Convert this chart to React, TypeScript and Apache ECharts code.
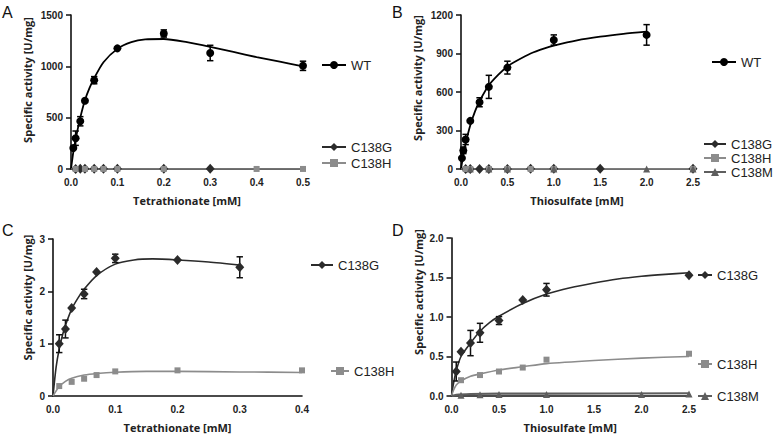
import React, { useEffect, useRef } from "react";
import * as echarts from "echarts";

// ---------- Panel A: Tetrathionate, WT + mutants ----------
const aWtX = [0.005, 0.01, 0.02, 0.03, 0.05, 0.1, 0.2, 0.3, 0.5];
const aWtY = [205, 300, 465, 665, 865, 1175, 1320, 1130, 1005];
const aWtErr = [0, 70, 45, 0, 35, 0, 35, 75, 45];
const aWtFitX = [0, 0.005, 0.01, 0.02, 0.03, 0.04, 0.05, 0.07, 0.1, 0.13, 0.16, 0.2, 0.25, 0.3, 0.35, 0.4, 0.45, 0.5];
const aWtFitY = [0, 165, 290, 500, 670, 790, 885, 1040, 1170, 1235, 1262, 1266, 1235, 1190, 1140, 1090, 1045, 1000];
const aGX = [0.01, 0.02, 0.03, 0.05, 0.07, 0.1, 0.2, 0.3];
const aGY = [1.0, 1.28, 1.68, 1.95, 2.37, 2.63, 2.6, 2.46];
const aHX = [0.01, 0.03, 0.05, 0.07, 0.1, 0.2, 0.4, 0.5];
const aHY = [0.19, 0.27, 0.33, 0.4, 0.47, 0.49, 0.49, 0.48];
const aMutFitX = [0, 0.5];
const aGFitY = [0, 2.5];
const aHFitY = [0, 0.45];

// ---------- Panel B: Thiosulfate, WT + mutants ----------
const bWtX = [0.01, 0.025, 0.05, 0.1, 0.2, 0.3, 0.5, 1.0, 2.0];
const bWtY = [85, 145, 230, 375, 520, 640, 790, 1005, 1045];
const bWtErr = [0, 25, 40, 0, 35, 90, 50, 40, 80];
const bWtFitX = [0, 0.01, 0.025, 0.05, 0.1, 0.15, 0.2, 0.3, 0.4, 0.5, 0.6, 0.75, 0.9, 1.0, 1.25, 1.5, 1.75, 2.0];
const bWtFitY = [0, 45, 108, 198, 340, 447, 528, 652, 733, 799, 843, 900, 940, 961, 1002, 1031, 1053, 1070];
const bGX = [0.05, 0.1, 0.2, 0.3, 0.5, 0.75, 1.0, 1.5, 2.5];
const bGY = [0.31, 0.56, 0.67, 0.8, 0.96, 1.22, 1.35, 1.45, 1.53];
const bHX = [0.05, 0.1, 0.3, 0.5, 0.75, 1.0, 2.5];
const bHY = [0.15, 0.2, 0.27, 0.31, 0.36, 0.46, 0.535];
const bMX = [0.1, 0.3, 0.5, 1.0, 2.0, 2.5];
const bMY = [0.01, 0.015, 0.02, 0.02, 0.02, 0.025];
const bMutFitX = [0, 2.5];
const bGFitY = [0, 1.56];
const bHFitY = [0, 0.5];
const bMFitY = [0, 0.035];

// ---------- Panel C: Tetrathionate, mutants ----------
const cGX = [0.01, 0.02, 0.03, 0.05, 0.07, 0.1, 0.2, 0.3];
const cGY = [1.0, 1.28, 1.68, 1.95, 2.37, 2.63, 2.6, 2.46];
const cGErr = [0.17, 0.17, 0, 0.09, 0, 0.08, 0, 0.2];
const cGFitX = [0, 0.005, 0.01, 0.015, 0.02, 0.03, 0.04, 0.05, 0.07, 0.1, 0.13, 0.16, 0.2, 0.25, 0.3];
const cGFitY = [0, 0.55, 0.9, 1.15, 1.35, 1.66, 1.87, 2.04, 2.3, 2.52, 2.6, 2.62, 2.6, 2.56, 2.5];
const cHX = [0.01, 0.03, 0.05, 0.07, 0.1, 0.2, 0.4];
const cHY = [0.19, 0.27, 0.33, 0.4, 0.47, 0.49, 0.49];
const cHFitX = [0, 0.01, 0.02, 0.03, 0.05, 0.07, 0.1, 0.15, 0.2, 0.3, 0.4];
const cHFitY = [0, 0.18, 0.28, 0.34, 0.4, 0.43, 0.455, 0.47, 0.47, 0.46, 0.45];

// ---------- Panel D: Thiosulfate, mutants ----------
const dGX = [0.05, 0.1, 0.2, 0.3, 0.5, 0.75, 1.0, 2.5];
const dGY = [0.31, 0.56, 0.67, 0.8, 0.955, 1.215, 1.345, 1.53];
const dGErr = [0.12, 0, 0.16, 0.12, 0.05, 0, 0.08, 0];
const dGFitX = [0, 0.02, 0.05, 0.1, 0.2, 0.3, 0.4, 0.5, 0.75, 1.0, 1.25, 1.5, 1.75, 2.0, 2.25, 2.5];
const dGFitY = [0, 0.15, 0.32, 0.5, 0.67, 0.82, 0.93, 1.01, 1.17, 1.29, 1.37, 1.43, 1.48, 1.515, 1.54, 1.56];
const dHX = [0.1, 0.3, 0.5, 0.75, 1.0, 2.5];
const dHY = [0.2, 0.265, 0.31, 0.36, 0.46, 0.535];
const dHFitX = [0, 0.02, 0.05, 0.1, 0.2, 0.3, 0.5, 0.75, 1.0, 1.5, 2.0, 2.5];
const dHFitY = [0, 0.07, 0.14, 0.19, 0.25, 0.28, 0.33, 0.37, 0.41, 0.45, 0.48, 0.5];
const dMX = [0.1, 0.3, 0.5, 1.0, 2.0, 2.5];
const dMY = [0.01, 0.015, 0.02, 0.02, 0.02, 0.025];
const dMFitX = [0, 0.05, 0.2, 0.5, 1.0, 2.5];
const dMFitY = [0, 0.015, 0.025, 0.03, 0.03, 0.035];

const xTitles = ["Tetrathionate [mM]", "Thiosulfate [mM]", "Tetrathionate [mM]", "Thiosulfate [mM]"];
const yTitle = "Specific activity [U/mg]";
const panelLetters = ["A", "B", "C", "D"];

const COL: Record<string, string> = { WT: "#000000", C138G: "#2b2b2b", C138H: "#8c8c8c", C138M: "#5e5e5e" };
const SYM: Record<string, string> = { WT: "circle", C138G: "diamond", C138H: "rect", C138M: "triangle" };
const SIZE: Record<string, any> = { WT: 8, C138G: [9, 10], C138H: 6, C138M: 7 };

const zip = (xs: number[], ys: number[]) => xs.map((x, i) => [x, ys[i]]);
const zip3 = (xs: number[], ys: number[], es: number[]) =>
  xs.map((x, i) => [x, ys[i], es[i]]).filter((d) => d[2] > 0);

const TICK_FONT = "'Liberation Sans', Arial, sans-serif";
const TITLE_FONT = "'Open Sans', 'Liberation Sans', sans-serif";

function fitLine(name: string, idx: number, xs: number[], ys: number[], width = 1.6) {
  return {
    type: "line",
    name,
    xAxisIndex: idx,
    yAxisIndex: idx,
    data: zip(xs, ys),
    smooth: 0.25,
    showSymbol: false,
    symbol: SYM[name],
    symbolSize: SIZE[name],
    lineStyle: { color: COL[name], width },
    itemStyle: { color: COL[name] },
    silent: true,
    z: 2,
  };
}

function points(name: string, idx: number, xs: number[], ys: number[]) {
  return {
    type: "scatter",
    name,
    xAxisIndex: idx,
    yAxisIndex: idx,
    data: zip(xs, ys),
    symbol: SYM[name],
    symbolSize: SIZE[name],
    itemStyle: { color: COL[name], opacity: 1 },
    z: 4,
  };
}

function errBars(key: string, color: string, idx: number, xs: number[], ys: number[], es: number[]) {
  return {
    type: "custom",
    name: key,
    xAxisIndex: idx,
    yAxisIndex: idx,
    data: zip3(xs, ys, es),
    encode: { x: 0, y: 1 },
    z: 3,
    silent: true,
    renderItem: (params: any, api: any) => {
      const x = api.value(0);
      const y = api.value(1);
      const e = api.value(2);
      const top = api.coord([x, y + e]);
      const bot = api.coord([x, y - e]);
      const w = 3.2;
      const style = { stroke: color, lineWidth: 1.5 };
      return {
        type: "group",
        children: [
          { type: "line", shape: { x1: top[0], y1: top[1], x2: bot[0], y2: bot[1] }, style },
          { type: "line", shape: { x1: top[0] - w, y1: top[1], x2: top[0] + w, y2: top[1] }, style },
          { type: "line", shape: { x1: bot[0] - w, y1: bot[1], x2: bot[0] + w, y2: bot[1] }, style },
        ],
      };
    },
  };
}

function legendItem(name: string, left: number, y: number, w: number) {
  return {
    data: [name],
    left,
    top: y - 6.5,
    padding: 0,
    itemWidth: w,
    itemHeight: 10,
    selectedMode: false,
    textStyle: { fontFamily: TICK_FONT, fontSize: 13, color: "#222" },
  };
}

const grids = [
  { left: 71, top: 15, width: 232, height: 154 },
  { left: 461, top: 15, width: 232, height: 154 },
  { left: 53, top: 239, width: 249, height: 157 },
  { left: 451.5, top: 238, width: 237.5, height: 158 },
];
const xRanges = [
  { max: 0.5, interval: 0.1 },
  { max: 2.5, interval: 0.5 },
  { max: 0.4, interval: 0.1 },
  { max: 2.5, interval: 0.5 },
];
const yRanges = [
  { max: 1500, interval: 500, dec: 0, gap: 38, shift: 24 },
  { max: 1200, interval: 300, dec: 0, gap: 38, shift: 28 },
  { max: 3, interval: 1, dec: 0, gap: 20, shift: 40 },
  { max: 2, interval: 0.5, dec: 1, gap: 28, shift: 50 },
];

export default function App() {
  const ref = useRef<HTMLDivElement>(null);
  useEffect(() => {
    if (!ref.current) return;
    const chart = echarts.init(ref.current, undefined, { renderer: "svg" });

    const axisLine = { show: true, lineStyle: { color: "#111", width: 1.6 } };
    const xAxis = grids.map((_, i) => ({
      type: "value",
      gridIndex: i,
      min: 0,
      max: xRanges[i].max,
      interval: xRanges[i].interval,
      name: xTitles[i],
      nameLocation: "middle",
      nameGap: 26,
      nameTextStyle: { fontFamily: TITLE_FONT, fontWeight: "bold", fontSize: 11, color: "#222" },
      axisLine,
      axisTick: { show: false },
      splitLine: { show: false },
      axisLabel: {
        margin: 8,
        fontFamily: TICK_FONT,
        fontWeight: "bold",
        fontSize: 10,
        color: "#222",
        formatter: (v: number) => v.toFixed(1),
      },
    }));
    const yAxis = grids.map((_, i) => ({
      type: "value",
      gridIndex: i,
      min: 0,
      max: yRanges[i].max,
      interval: yRanges[i].interval,
      name: yTitle,
      nameLocation: "middle",
      nameGap: yRanges[i].gap,
      nameTextStyle: {
        fontFamily: TITLE_FONT,
        fontWeight: "bold",
        fontSize: 11,
        color: "#222",
        padding: [0, 0, 0, yRanges[i].shift],
      },
      axisLine,
      axisTick: { show: true, length: 5, lineStyle: { color: "#111", width: 1.5 } },
      splitLine: { show: false },
      axisLabel: {
        margin: 8,
        fontFamily: TICK_FONT,
        fontWeight: "bold",
        fontSize: 10,
        color: "#222",
        formatter: (v: number) => v.toFixed(yRanges[i].dec),
      },
    }));

    const series: any[] = [
      // A
      fitLine("WT", 0, aWtFitX, aWtFitY, 1.8),
      fitLine("C138G", 0, aMutFitX, aGFitY),
      fitLine("C138H", 0, aMutFitX, aHFitY),
      errBars("errA", "#000", 0, aWtX, aWtY, aWtErr),
      points("C138G", 0, aGX, aGY),
      points("C138H", 0, aHX, aHY),
      points("WT", 0, aWtX, aWtY),
      // B
      fitLine("WT", 1, bWtFitX, bWtFitY, 1.8),
      fitLine("C138G", 1, bMutFitX, bGFitY),
      fitLine("C138M", 1, bMutFitX, bMFitY),
      fitLine("C138H", 1, bMutFitX, bHFitY),
      errBars("errB", "#000", 1, bWtX, bWtY, bWtErr),
      points("C138G", 1, bGX, bGY),
      points("C138H", 1, bHX, bHY),
      points("C138M", 1, bMX, bMY),
      points("WT", 1, bWtX, bWtY),
      // C
      fitLine("C138G", 2, cGFitX, cGFitY),
      fitLine("C138H", 2, cHFitX, cHFitY),
      errBars("errC", "#111", 2, cGX, cGY, cGErr),
      points("C138G", 2, cGX, cGY),
      points("C138H", 2, cHX, cHY),
      // D
      fitLine("C138G", 3, dGFitX, dGFitY),
      fitLine("C138H", 3, dHFitX, dHFitY),
      fitLine("C138M", 3, dMFitX, dMFitY, 2.2),
      errBars("errD", "#111", 3, dGX, dGY, dGErr),
      points("C138G", 3, dGX, dGY),
      points("C138H", 3, dHX, dHY),
      points("C138M", 3, dMX, dMY),
    ];

    const legend = [
      legendItem("WT", 321, 65, 24),
      legendItem("C138G", 321, 147, 24),
      legendItem("C138H", 321, 163, 24),
      legendItem("WT", 711, 62, 24),
      legendItem("C138G", 703, 144, 22),
      legendItem("C138H", 703, 158, 22),
      legendItem("C138M", 703, 172, 22),
      legendItem("C138G", 310, 265, 22),
      legendItem("C138H", 330, 371, 18),
      legendItem("C138G", 697, 275, 14),
      legendItem("C138H", 697, 364, 14),
      legendItem("C138M", 697, 396, 14),
    ];

    const title = panelLetters.map((t, i) => ({
      text: t,
      left: i % 2 === 0 ? 2 : 392,
      top: i < 2 ? 4 : 222,
      padding: 0,
      textStyle: { fontFamily: TICK_FONT, fontSize: 16, fontWeight: "normal", color: "#111" },
    }));

    chart.setOption({
      animation: false,
      backgroundColor: "#ffffff",
      title,
      grid: grids,
      xAxis,
      yAxis,
      legend,
      series,
    });
    return () => chart.dispose();
  }, []);
  return (
    <div
      ref={ref}
      style={{ position: "absolute", left: 0, top: 0, width: 780, height: 436 }}
    />
  );
}
